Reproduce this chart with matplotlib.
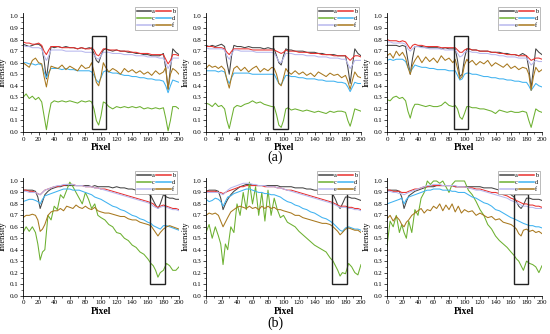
import matplotlib
matplotlib.use("Agg")
import matplotlib.pyplot as plt
from matplotlib.patches import Rectangle
from matplotlib.ticker import MultipleLocator, FormatStrFormatter

plt.rcParams['font.family'] = ['Liberation Serif', 'DejaVu Serif']

# ---------------- data ----------------
series_names = ["a", "b", "c", "d", "e", "f"]
series_colors = ["#454545", "#e8302e", "#6cb030", "#3fb2f0", "#b8b8ee", "#a8781e"]

x_a = [0, 4, 8, 12, 16, 20, 24, 27, 30, 33, 36, 40, 45, 50, 55, 60, 65, 70, 75, 80, 85,
       88, 91, 94, 97, 100, 103, 106, 110, 115, 120, 125, 130, 135, 140, 145, 150, 155,
       160, 165, 170, 175, 180, 183, 186, 189, 192, 196, 200]

x_b = [0, 4, 8, 12, 16, 19, 22, 25, 28, 32, 36, 40, 44, 48, 52, 56, 60, 64, 68, 72, 76,
       80, 84, 88, 92, 96, 100, 105, 110, 115, 120, 125, 130, 135, 140, 145, 150, 155,
       160, 164, 167, 170, 173, 176, 180, 184, 188, 192, 196, 200]

# ---- panel a1 ----
a1_a = [0.76,0.75,0.74,0.75,0.76,0.76,0.74,0.62,0.46,0.62, 0.74,0.73,0.74,0.73,0.74,0.73,0.73,0.72,0.73,0.72,
        0.73,0.72,0.68,0.62,0.60,0.66,0.71,0.72,0.71,0.70, 0.71,0.70,0.70,0.69,0.69,0.68,0.68,0.67,0.67,0.66,
        0.66,0.66,0.68,0.55,0.37,0.55,0.72,0.69,0.67]
a1_b = [0.78,0.77,0.77,0.76,0.76,0.77,0.75,0.70,0.67,0.71, 0.74,0.74,0.74,0.73,0.73,0.73,0.73,0.72,0.73,0.72,
        0.72,0.73,0.71,0.67,0.66,0.69,0.72,0.72,0.71,0.71, 0.71,0.70,0.70,0.70,0.69,0.69,0.68,0.68,0.68,0.67,
        0.67,0.67,0.67,0.63,0.59,0.62,0.67,0.67,0.66]
a1_c = [0.30,0.33,0.29,0.31,0.28,0.30,0.26,0.14,0.02,0.15, 0.25,0.27,0.26,0.27,0.26,0.27,0.26,0.25,0.27,0.26,
        0.27,0.26,0.20,0.10,0.06,0.14,0.26,0.25,0.22,0.20, 0.22,0.21,0.22,0.21,0.22,0.21,0.22,0.20,0.21,0.20,
        0.21,0.20,0.21,0.12,0.01,0.10,0.22,0.22,0.20]
a1_d = [0.60,0.60,0.59,0.59,0.58,0.59,0.58,0.52,0.47,0.52, 0.55,0.55,0.55,0.54,0.55,0.54,0.54,0.53,0.53,0.53,
        0.53,0.52,0.49,0.45,0.43,0.47,0.52,0.53,0.52,0.51, 0.51,0.50,0.49,0.49,0.48,0.48,0.47,0.47,0.46,0.46,
        0.45,0.45,0.44,0.40,0.34,0.40,0.45,0.44,0.43]
a1_e = [0.75,0.74,0.74,0.73,0.73,0.73,0.72,0.66,0.62,0.66, 0.71,0.71,0.71,0.71,0.70,0.70,0.70,0.70,0.70,0.69,
        0.69,0.69,0.67,0.64,0.63,0.66,0.69,0.69,0.69,0.68, 0.68,0.68,0.67,0.67,0.67,0.66,0.66,0.66,0.65,0.65,
        0.65,0.64,0.64,0.60,0.55,0.59,0.64,0.64,0.64]
a1_f = [0.60,0.58,0.56,0.62,0.64,0.60,0.59,0.48,0.39,0.50, 0.57,0.56,0.55,0.58,0.54,0.57,0.55,0.53,0.58,0.55,
        0.56,0.60,0.52,0.43,0.40,0.48,0.60,0.56,0.52,0.55, 0.53,0.50,0.55,0.52,0.54,0.51,0.53,0.50,0.52,0.49,
        0.53,0.50,0.52,0.56,0.37,0.50,0.55,0.53,0.50]

# ---- panel a2 ----
a2_a = [0.75,0.74,0.75,0.74,0.75,0.76,0.74,0.60,0.50,0.66, 0.75,0.74,0.74,0.73,0.74,0.73,0.73,0.73,0.72,0.73,
        0.72,0.72,0.66,0.60,0.58,0.66,0.72,0.71,0.71,0.70, 0.70,0.70,0.69,0.69,0.69,0.68,0.68,0.67,0.67,0.67,
        0.66,0.66,0.66,0.56,0.42,0.58,0.72,0.68,0.66]
a2_b = [0.74,0.74,0.74,0.73,0.73,0.73,0.72,0.69,0.67,0.70, 0.72,0.72,0.72,0.72,0.72,0.71,0.71,0.71,0.71,0.71,
        0.71,0.71,0.70,0.69,0.68,0.69,0.71,0.70,0.70,0.70, 0.69,0.69,0.69,0.68,0.68,0.68,0.67,0.67,0.67,0.66,
        0.66,0.66,0.66,0.64,0.62,0.64,0.66,0.66,0.65]
a2_c = [0.25,0.24,0.22,0.25,0.22,0.23,0.20,0.10,0.03,0.12, 0.21,0.23,0.22,0.24,0.25,0.27,0.25,0.26,0.24,0.23,
        0.22,0.22,0.15,0.06,0.04,0.10,0.20,0.21,0.19,0.20, 0.19,0.18,0.19,0.18,0.17,0.18,0.17,0.16,0.18,0.17,
        0.18,0.18,0.17,0.10,0.05,0.12,0.20,0.19,0.18]
a2_d = [0.53,0.53,0.53,0.53,0.52,0.53,0.52,0.46,0.42,0.47, 0.51,0.51,0.51,0.51,0.51,0.50,0.50,0.50,0.50,0.50,
        0.50,0.50,0.46,0.42,0.41,0.45,0.49,0.49,0.48,0.48, 0.47,0.47,0.46,0.46,0.46,0.45,0.45,0.44,0.44,0.44,
        0.43,0.43,0.42,0.39,0.35,0.39,0.43,0.42,0.42]
a2_e = [0.73,0.72,0.72,0.72,0.72,0.72,0.71,0.66,0.63,0.67, 0.71,0.71,0.70,0.70,0.70,0.70,0.69,0.69,0.69,0.69,
        0.69,0.68,0.65,0.61,0.60,0.64,0.68,0.68,0.68,0.67, 0.67,0.67,0.66,0.66,0.66,0.65,0.65,0.65,0.64,0.64,
        0.64,0.63,0.63,0.59,0.55,0.58,0.62,0.62,0.62]
a2_f = [0.55,0.58,0.56,0.57,0.55,0.57,0.54,0.45,0.38,0.48, 0.55,0.57,0.53,0.56,0.52,0.55,0.57,0.52,0.55,0.53,
        0.56,0.55,0.50,0.42,0.40,0.47,0.55,0.52,0.50,0.53, 0.50,0.52,0.49,0.51,0.48,0.52,0.50,0.48,0.51,0.49,
        0.50,0.47,0.49,0.44,0.37,0.45,0.52,0.48,0.47]

# ---- panel a3 ----
a3_a = [0.75,0.75,0.75,0.75,0.74,0.75,0.74,0.62,0.50,0.64, 0.74,0.74,0.74,0.73,0.73,0.73,0.73,0.72,0.73,0.72,
        0.72,0.72,0.62,0.48,0.50,0.64,0.72,0.72,0.71,0.71, 0.70,0.70,0.70,0.69,0.69,0.69,0.68,0.68,0.67,0.67,
        0.66,0.68,0.66,0.55,0.38,0.55,0.72,0.69,0.67]
a3_b = [0.80,0.79,0.79,0.79,0.78,0.79,0.78,0.75,0.72,0.75, 0.76,0.75,0.75,0.74,0.74,0.74,0.74,0.73,0.73,0.73,
        0.73,0.73,0.71,0.69,0.69,0.71,0.72,0.72,0.71,0.71, 0.70,0.70,0.70,0.69,0.69,0.68,0.68,0.67,0.67,0.67,
        0.66,0.66,0.66,0.64,0.62,0.63,0.64,0.64,0.63]
a3_c = [0.28,0.27,0.30,0.31,0.29,0.30,0.27,0.18,0.12,0.20, 0.24,0.24,0.23,0.22,0.23,0.22,0.22,0.23,0.26,0.23,
        0.22,0.23,0.20,0.13,0.11,0.16,0.22,0.22,0.21,0.21, 0.20,0.20,0.19,0.18,0.16,0.19,0.18,0.17,0.18,0.17,
        0.17,0.18,0.17,0.10,0.04,0.12,0.20,0.18,0.17]
a3_d = [0.62,0.63,0.62,0.63,0.63,0.63,0.61,0.56,0.52,0.55, 0.58,0.57,0.56,0.56,0.55,0.55,0.54,0.54,0.54,0.53,
        0.53,0.53,0.49,0.45,0.46,0.50,0.51,0.51,0.50,0.50, 0.49,0.48,0.48,0.47,0.47,0.46,0.46,0.45,0.45,0.44,
        0.44,0.43,0.43,0.40,0.36,0.39,0.42,0.40,0.39]
a3_e = [0.78,0.78,0.77,0.77,0.77,0.77,0.76,0.72,0.70,0.72, 0.74,0.74,0.73,0.73,0.72,0.72,0.72,0.72,0.71,0.71,
        0.71,0.71,0.68,0.65,0.66,0.69,0.70,0.70,0.69,0.69, 0.68,0.68,0.68,0.67,0.67,0.66,0.66,0.65,0.65,0.65,
        0.64,0.64,0.64,0.61,0.58,0.60,0.62,0.61,0.61]
a3_f = [0.66,0.68,0.64,0.70,0.66,0.69,0.64,0.56,0.50,0.58, 0.62,0.66,0.60,0.65,0.61,0.64,0.60,0.66,0.62,0.64,
        0.60,0.63,0.55,0.46,0.48,0.58,0.63,0.60,0.62,0.58, 0.61,0.59,0.62,0.57,0.60,0.58,0.56,0.59,0.55,0.57,
        0.54,0.56,0.55,0.50,0.36,0.48,0.56,0.52,0.54]

# ---- panel b1 ----
b1_a = [0.92,0.92,0.92,0.92,0.91,0.86,0.76,0.82,0.88,0.91, 0.93,0.94,0.95,0.95,0.96,0.96,0.96,0.96,0.96,0.96,
        0.96,0.96,0.96,0.95,0.96,0.95,0.95,0.95,0.95,0.94, 0.95,0.94,0.94,0.93,0.93,0.92,0.91,0.90,0.89,0.87,
        0.83,0.79,0.76,0.80,0.88,0.86,0.85,0.85,0.84,0.84]
b1_b = [0.92,0.92,0.91,0.91,0.90,0.89,0.88,0.90,0.92,0.93, 0.94,0.95,0.95,0.96,0.96,0.97,0.97,0.97,0.96,0.96,
        0.96,0.95,0.95,0.95,0.94,0.94,0.93,0.93,0.92,0.91, 0.90,0.89,0.88,0.87,0.86,0.85,0.84,0.83,0.82,0.81,
        0.80,0.78,0.77,0.78,0.79,0.78,0.77,0.76,0.76,0.75]
b1_c = [0.55,0.60,0.56,0.60,0.55,0.45,0.31,0.38,0.40,0.70, 0.66,0.78,0.75,0.88,0.85,0.92,0.99,0.95,0.90,0.85,
        0.80,0.90,0.84,0.76,0.80,0.70,0.68,0.66,0.62,0.60, 0.55,0.54,0.50,0.48,0.44,0.42,0.38,0.36,0.32,0.28,
        0.26,0.22,0.16,0.20,0.22,0.28,0.26,0.22,0.22,0.25]
b1_d = [0.82,0.83,0.84,0.84,0.83,0.82,0.80,0.84,0.87,0.88, 0.89,0.90,0.91,0.92,0.93,0.93,0.93,0.92,0.92,0.92,
        0.91,0.90,0.89,0.88,0.86,0.85,0.84,0.82,0.80,0.78, 0.77,0.75,0.74,0.72,0.70,0.69,0.67,0.66,0.64,0.63,
        0.61,0.60,0.59,0.58,0.61,0.61,0.60,0.59,0.58,0.57]
b1_e = [0.91,0.91,0.90,0.90,0.90,0.89,0.88,0.90,0.92,0.93, 0.94,0.95,0.96,0.96,0.97,0.97,0.97,0.97,0.96,0.96,
        0.96,0.95,0.95,0.95,0.94,0.94,0.93,0.92,0.91,0.90, 0.89,0.88,0.87,0.86,0.85,0.84,0.83,0.82,0.81,0.80,
        0.78,0.77,0.76,0.77,0.78,0.77,0.76,0.75,0.75,0.74]
b1_f = [0.68,0.70,0.70,0.71,0.70,0.66,0.56,0.58,0.62,0.70, 0.73,0.74,0.74,0.76,0.74,0.78,0.77,0.76,0.79,0.77,
        0.76,0.78,0.76,0.75,0.77,0.74,0.73,0.72,0.72,0.71, 0.70,0.69,0.69,0.67,0.66,0.66,0.64,0.63,0.62,0.61,
        0.58,0.55,0.52,0.55,0.58,0.60,0.61,0.60,0.59,0.58]

# ---- panel b2 ----
b2_a = [0.91,0.92,0.92,0.92,0.91,0.85,0.75,0.80,0.84,0.88, 0.91,0.93,0.95,0.96,0.97,0.97,0.97,0.96,0.96,0.96,
        0.96,0.96,0.96,0.96,0.96,0.95,0.95,0.95,0.95,0.94, 0.94,0.94,0.93,0.93,0.92,0.92,0.91,0.90,0.89,0.88,
        0.84,0.79,0.76,0.80,0.86,0.86,0.85,0.85,0.84,0.83]
b2_b = [0.91,0.91,0.91,0.91,0.90,0.90,0.89,0.90,0.91,0.92, 0.93,0.94,0.95,0.95,0.96,0.96,0.96,0.96,0.96,0.96,
        0.95,0.95,0.95,0.95,0.94,0.94,0.93,0.92,0.92,0.91, 0.90,0.89,0.88,0.87,0.86,0.85,0.84,0.83,0.82,0.81,
        0.80,0.79,0.78,0.78,0.78,0.77,0.77,0.76,0.76,0.75]
b2_c = [0.55,0.62,0.50,0.60,0.52,0.45,0.27,0.45,0.40,0.60, 0.55,0.80,0.70,0.90,0.75,0.99,0.80,0.95,0.70,0.90,
        0.65,0.92,0.70,0.85,0.75,0.68,0.70,0.64,0.62,0.60, 0.56,0.53,0.50,0.47,0.44,0.42,0.40,0.38,0.33,0.30,
        0.26,0.22,0.17,0.20,0.19,0.28,0.25,0.20,0.18,0.27]
b2_d = [0.84,0.82,0.83,0.85,0.84,0.82,0.78,0.82,0.86,0.87, 0.89,0.90,0.91,0.92,0.93,0.93,0.92,0.91,0.90,0.90,
        0.89,0.89,0.88,0.88,0.87,0.86,0.84,0.82,0.81,0.79, 0.78,0.76,0.75,0.73,0.72,0.70,0.68,0.67,0.65,0.63,
        0.61,0.59,0.57,0.56,0.59,0.60,0.59,0.58,0.58,0.57]
b2_e = [0.90,0.90,0.90,0.90,0.90,0.89,0.88,0.90,0.92,0.94, 0.95,0.96,0.97,0.98,0.98,0.98,0.97,0.97,0.96,0.96,
        0.96,0.95,0.95,0.95,0.94,0.94,0.93,0.92,0.91,0.90, 0.89,0.88,0.87,0.86,0.85,0.84,0.83,0.82,0.81,0.80,
        0.79,0.78,0.77,0.77,0.77,0.76,0.76,0.75,0.75,0.74]
b2_f = [0.70,0.72,0.71,0.72,0.70,0.65,0.60,0.64,0.68,0.73, 0.75,0.77,0.78,0.77,0.76,0.78,0.76,0.77,0.75,0.78,
        0.76,0.78,0.76,0.77,0.75,0.75,0.74,0.73,0.72,0.70, 0.70,0.68,0.67,0.66,0.65,0.64,0.63,0.63,0.62,0.60,
        0.58,0.56,0.53,0.55,0.58,0.59,0.58,0.57,0.57,0.55]

# ---- panel b3 ----
b3_a = [0.92,0.92,0.92,0.92,0.91,0.86,0.76,0.82,0.87,0.89, 0.91,0.92,0.93,0.94,0.95,0.95,0.95,0.96,0.96,0.96,
        0.96,0.96,0.96,0.95,0.95,0.95,0.95,0.95,0.95,0.95, 0.95,0.94,0.94,0.94,0.93,0.92,0.91,0.90,0.88,0.86,
        0.82,0.78,0.76,0.79,0.85,0.85,0.84,0.84,0.84,0.83]
b3_b = [0.92,0.92,0.91,0.91,0.91,0.90,0.90,0.90,0.91,0.92, 0.93,0.93,0.94,0.95,0.95,0.96,0.96,0.96,0.96,0.96,
        0.96,0.96,0.96,0.95,0.95,0.95,0.95,0.94,0.94,0.93, 0.93,0.92,0.91,0.90,0.90,0.89,0.88,0.87,0.85,0.84,
        0.83,0.82,0.81,0.80,0.80,0.79,0.79,0.78,0.78,0.77]
b3_c = [0.43,0.65,0.60,0.70,0.55,0.62,0.55,0.50,0.65,0.55, 0.75,0.70,0.85,0.90,1.00,0.97,1.00,1.00,0.98,1.00,
        0.95,0.90,0.97,1.00,1.00,1.00,1.00,0.92,0.88,0.82, 0.75,0.70,0.62,0.58,0.52,0.48,0.45,0.42,0.38,0.35,
        0.32,0.30,0.26,0.22,0.30,0.28,0.27,0.25,0.20,0.26]
b3_d = [0.80,0.81,0.82,0.83,0.84,0.85,0.80,0.84,0.86,0.87, 0.88,0.89,0.90,0.91,0.92,0.92,0.93,0.93,0.93,0.92,
        0.92,0.92,0.91,0.91,0.90,0.90,0.90,0.88,0.86,0.85, 0.83,0.81,0.80,0.78,0.75,0.74,0.72,0.70,0.68,0.67,
        0.66,0.65,0.64,0.63,0.62,0.61,0.61,0.60,0.60,0.59]
b3_e = [0.91,0.91,0.90,0.90,0.89,0.89,0.88,0.89,0.90,0.91, 0.92,0.93,0.94,0.95,0.96,0.96,0.97,0.97,0.97,0.96,
        0.96,0.96,0.96,0.96,0.95,0.95,0.95,0.94,0.93,0.92, 0.92,0.91,0.90,0.89,0.88,0.87,0.86,0.85,0.83,0.82,
        0.81,0.80,0.79,0.78,0.78,0.77,0.77,0.76,0.76,0.76]
b3_f = [0.67,0.70,0.65,0.69,0.66,0.62,0.60,0.64,0.66,0.70, 0.72,0.74,0.76,0.72,0.75,0.74,0.78,0.76,0.80,0.74,
        0.79,0.75,0.80,0.73,0.78,0.72,0.75,0.73,0.74,0.70, 0.72,0.70,0.68,0.69,0.66,0.67,0.64,0.63,0.62,0.60,
        0.58,0.54,0.52,0.57,0.58,0.56,0.57,0.55,0.56,0.54]

# highlighted boxes: (x0, x1, y0, y1)
box_a1 = (88, 106, 0.03, 0.83)
box_a2 = (87, 106, 0.03, 0.83)
box_a3 = (86, 105, 0.03, 0.83)
box_b1 = (163, 182, 0.10, 0.90)
box_b2 = (163, 182, 0.10, 0.91)
box_b3 = (164, 182, 0.10, 0.89)

panels = [
    (x_a, [a1_a, a1_b, a1_c, a1_d, a1_e, a1_f], box_a1),
    (x_a, [a2_a, a2_b, a2_c, a2_d, a2_e, a2_f], box_a2),
    (x_a, [a3_a, a3_b, a3_c, a3_d, a3_e, a3_f], box_a3),
    (x_b, [b1_a, b1_b, b1_c, b1_d, b1_e, b1_f], box_b1),
    (x_b, [b2_a, b2_b, b2_c, b2_d, b2_e, b2_f], box_b2),
    (x_b, [b3_a, b3_b, b3_c, b3_d, b3_e, b3_f], box_b3),
]

# ---------------- layout ----------------
W, H = 550, 334
fig = plt.figure(figsize=(W / 100, H / 100), dpi=100)

col_px = [(23, 179), (206, 361), (387, 542)]
row_px = [(16.5, 132.0), (181.0, 295.5)]   # (y at 1.0, y at 0.0) in px from top
ytop = 1.03
leg_order = [0, 2, 4, 1, 3, 5]   # rows: a b / c d / e f

for i, (xs, ys, box) in enumerate(panels):
    r, c = divmod(i, 3)
    x0, x1 = col_px[c]
    y1, y0 = row_px[r]
    unit = y0 - y1
    top_px = y1 - (ytop - 1.0) * unit
    ax = fig.add_axes([x0 / W, 1 - y0 / H, (x1 - x0) / W, (y0 - top_px) / H])
    handles = []
    for name, col, yv in zip(series_names, series_colors, ys):
        ln, = ax.plot(xs, yv, color=col, lw=0.75, label=name)
        handles.append(ln)
    bx0, bx1, by0, by1 = box
    ax.add_patch(Rectangle((bx0, by0), bx1 - bx0, by1 - by0, fill=False,
                           edgecolor="#222222", lw=1.0, zorder=5))
    ax.set_xlim(0, 200)
    ax.set_ylim(0, ytop)
    ax.spines['top'].set_visible(False)
    ax.spines['right'].set_visible(False)
    for s in ('left', 'bottom'):
        ax.spines[s].set_linewidth(0.6)
    ax.xaxis.set_major_locator(MultipleLocator(20))
    ax.xaxis.set_minor_locator(MultipleLocator(10))
    ax.yaxis.set_major_locator(MultipleLocator(0.1))
    ax.yaxis.set_minor_locator(MultipleLocator(0.05))
    ax.tick_params(which='major', length=2, width=0.5, labelsize=5, pad=1.5)
    ax.tick_params(which='minor', length=1.2, width=0.4)
    ax.yaxis.set_major_formatter(FormatStrFormatter('%.1f'))
    ax.set_xlabel("Pixel", fontsize=7, fontweight='bold', labelpad=1)
    ax.set_ylabel("Intensity", fontsize=6, labelpad=2)
    hs = [handles[k] for k in leg_order]
    ls = [series_names[k] for k in leg_order]
    leg = ax.legend(hs, ls, ncol=2, loc='upper right',
                    bbox_to_anchor=(x1 / W + 0.002, 1 - (top_px - 9.5) / H),
                    bbox_transform=fig.transFigure,
                    fontsize=4.5, handlelength=2.3, handletextpad=0.2,
                    columnspacing=0.2, labelspacing=0.25, borderpad=0.3,
                    frameon=True, fancybox=False, framealpha=1.0)
    leg.get_frame().set_edgecolor("#a0a0a0")
    leg.get_frame().set_linewidth(0.5)
    for lh in leg.get_lines():
        lh.set_linewidth(1.1)

fig.text(275 / W, 1 - 157 / H, "(a)", ha='center', va='center', fontsize=10)
fig.text(275 / W, 1 - 323.5 / H, "(b)", ha='center', va='center', fontsize=10)

fig.savefig("out.png", dpi=100)
